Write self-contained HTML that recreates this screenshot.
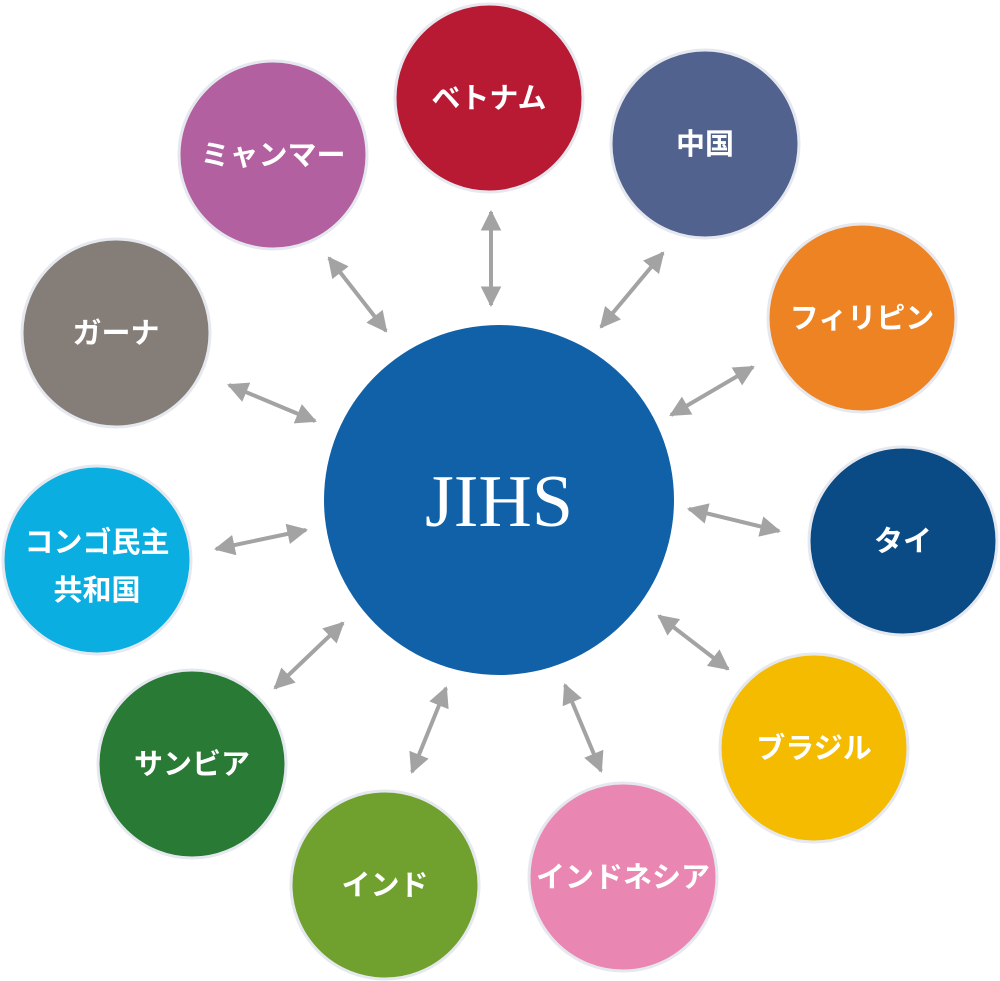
<!DOCTYPE html>
<html><head><meta charset="utf-8"><style>
html,body{margin:0;padding:0;background:#fff;width:1000px;height:981px;overflow:hidden}
svg{display:block}
text{font-family:"Liberation Sans","Noto Sans CJK JP",sans-serif;font-weight:bold;fill:#fff;text-anchor:middle}
</style></head><body>
<svg width="1000" height="981" viewBox="0 0 1000 981">
<defs>
<marker id="ah" viewBox="0 0 10 10" refX="9" refY="5" markerWidth="5.2" markerHeight="5.2" orient="auto-start-reverse" markerUnits="strokeWidth">
<path d="M0,0 L10,5 L0,10 Z" fill="#a3a3a3"/></marker>
</defs>
<g stroke="#a3a3a3" stroke-width="4" marker-start="url(#ah)" marker-end="url(#ah)">
<line x1="491" y1="212" x2="491" y2="305"/>
<line x1="663" y1="253" x2="601" y2="327"/>
<line x1="753" y1="367" x2="671" y2="415"/>
<line x1="689" y1="509" x2="779" y2="531"/>
<line x1="659" y1="616" x2="728" y2="669"/>
<line x1="565" y1="685" x2="601" y2="771"/>
<line x1="446" y1="688" x2="412" y2="772"/>
<line x1="343" y1="623" x2="275" y2="688"/>
<line x1="306" y1="530" x2="216" y2="549"/>
<line x1="229" y1="385" x2="315" y2="421"/>
<line x1="329" y1="258" x2="386" y2="331"/>
</g>
<g stroke="#e6e8ef" stroke-width="3">
<circle cx="499" cy="500" r="175" fill="#1061a8" stroke="none"/>
<circle cx="489" cy="98" r="94" fill="#b81a33"/>
<circle cx="705" cy="144" r="94" fill="#51628e"/>
<circle cx="862" cy="318" r="94" fill="#ed8322"/>
<circle cx="903" cy="541" r="94" fill="#0a4a85"/>
<circle cx="814" cy="748" r="94" fill="#f5bb00"/>
<circle cx="623" cy="877" r="94" fill="#ea86b2"/>
<circle cx="385" cy="885" r="94" fill="#70a12f"/>
<circle cx="192" cy="764" r="94" fill="#287a35"/>
<circle cx="97" cy="560" r="94" fill="#0aaee0"/>
<circle cx="116" cy="333" r="94" fill="#857d77"/>
<circle cx="273" cy="155" r="94" fill="#b2609f"/>
</g>
<text x="499" y="526" style="font-family:'Liberation Serif',serif;font-weight:normal;font-size:74px">JIHS</text>
<g font-size="29">
<text x="489" y="108">ベトナム</text>
<text x="705" y="154">中国</text>
<text x="862" y="328">フィリピン</text>
<text x="903" y="551">タイ</text>
<text x="814" y="758">ブラジル</text>
<text x="623" y="887">インドネシア</text>
<text x="385" y="895">インド</text>
<text x="192" y="774">サンビア</text>
<text x="97" y="552">コンゴ民主</text>
<text x="97" y="600">共和国</text>
<text x="116" y="343">ガーナ</text>
<text x="273" y="165">ミャンマー</text>
</g>
</svg>
</body></html>
